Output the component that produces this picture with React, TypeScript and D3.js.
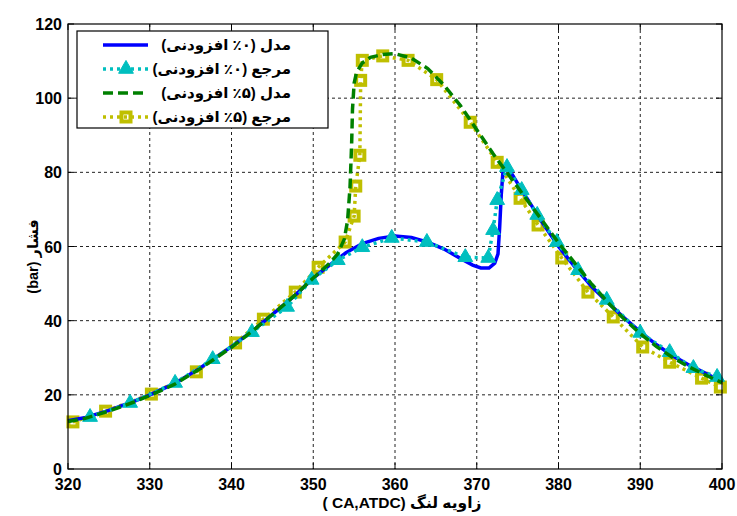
import React from 'react';
import * as d3 from 'd3';

// ---------- data ----------
const xTicks = [320, 330, 340, 350, 360, 370, 380, 390, 400];
const yTicks = [0, 20, 40, 60, 80, 100, 120];

const legendLabels = [
  'مدل (۰٪ افزودنی)',
  'مرجع (۰٪ افزودنی)',
  'مدل (۵٪ افزودنی)',
  'مرجع (۵٪ افزودنی)',
];
const xTitle = 'زاویه لنگ (CA,ATDC )';
const yTitle = 'فشار (bar)';

// model, 0% additive (solid blue)
const model0X = [320, 322, 325, 328, 330, 333, 336, 340, 343, 346, 348, 350, 352, 354, 356, 358, 360, 362, 364, 366, 368, 369.5, 370.5, 371.5, 372.2, 372.6, 372.8, 373, 373.2, 373.5, 374, 375, 376, 378, 380, 382, 384, 386, 388, 390, 392, 394, 396, 398, 400];
const model0Y = [13, 13.8, 15.8, 18.2, 20, 23, 27, 33, 38, 43.5, 47.3, 51.5, 55, 58.3, 60.8, 62.2, 62.8, 62.4, 61.2, 59.3, 56.8, 55, 54.2, 54.2, 55.5, 58, 65, 74, 80, 81.3, 80.6, 77, 73.5, 66.5, 60, 54.5, 49.3, 45, 40.8, 37, 33.5, 30.5, 28, 25.8, 23.5];

// reference, 0% additive (cyan dotted, triangles)
const ref0X = [322.7, 327.6, 333.1, 337.7, 342.5, 346.8, 349.8, 353.0, 356.0, 359.6, 363.9, 368.6, 371.4, 372.0, 372.5, 373.7, 375.5, 377.4, 379.8, 382.4, 385.9, 390.0, 393.6, 396.5, 399.4];
const ref0Y = [14.0, 17.8, 23.2, 29.6, 36.9, 43.7, 51.0, 56.3, 59.8, 62.3, 61.2, 57.1, 56.9, 64.4, 72.5, 81.4, 75.2, 68.5, 61.2, 53.6, 45.6, 36.7, 31.5, 27.2, 24.8];

// model, 5% additive (green dashed)
const model5X = [320, 322, 325, 328, 330, 333, 336, 340, 343, 346, 348, 350, 352, 353, 353.8, 354.2, 354.5, 354.7, 354.8, 355, 355.3, 356, 357, 358.5, 360, 362, 364, 366, 368, 370, 372, 374, 376, 378, 380, 382, 384, 386, 388, 390, 392, 394, 396, 398, 400];
const model5Y = [12.8, 13.6, 15.6, 18, 19.8, 22.8, 26.8, 32.8, 38, 43.5, 47.3, 51.5, 55.5, 58, 62, 67, 76, 88, 97, 104, 107, 109.5, 111, 111.8, 112, 110.8, 108, 103.5, 98, 91.5, 85, 79, 73, 67, 61, 55.5, 50, 45, 40.5, 36.5, 33, 30, 27.5, 25.3, 23.3];

// reference, 5% additive (yellow dotted, squares)
const ref5X = [320.6, 324.6, 330.2, 335.7, 340.5, 343.9, 347.8, 350.6, 353.9, 355.0, 355.2, 355.7, 355.8, 356.0, 358.5, 361.6, 365.1, 369.2, 372.5, 375.3, 377.5, 380.4, 383.6, 386.7, 390.3, 393.6, 397.5, 399.8];
const ref5Y = [12.7, 15.6, 20.2, 26.2, 34.0, 40.4, 47.7, 54.4, 61.2, 68.2, 76.3, 84.6, 104.8, 110.2, 111.4, 110.2, 105.0, 93.5, 82.7, 73.0, 65.8, 56.9, 47.7, 41.0, 32.9, 28.8, 24.5, 22.1];

// ---------- layout ----------
const W = 737;
const H = 516;
const L = 68, R = 722, T = 24, B = 469;

const BLUE = '#0000ff';
const CYAN = '#00bfbf';
const GREEN = '#008000';
const YELLOW = '#bfbf00';

const font = '"Liberation Sans", Arial, sans-serif';
const faFont = '"Liberation Sans", "DejaVu Sans", sans-serif';

const zip = (xs: number[], ys: number[]) => xs.map((x, i) => [x, ys[i]] as [number, number]);

export default function App() {
  const x = d3.scaleLinear().domain([320, 400]).range([L, R]);
  const y = d3.scaleLinear().domain([0, 120]).range([B, T]);
  const line = d3.line<[number, number]>().x(d => x(d[0])).y(d => y(d[1]));

  const m0 = zip(model0X, model0Y);
  const r0 = zip(ref0X, ref0Y);
  const m5 = zip(model5X, model5Y);
  const r5 = zip(ref5X, ref5Y);

  const tri = d3.symbol(d3.symbolTriangle, 95)() as string;
  const sq = 9;

  const legendRows = ['m0', 'r0', 'm5', 'r5'];
  const legX0 = 77, legY0 = 31, legW = 251, legH = 97;
  const rowY = [45, 69, 93, 117];

  return (
    <svg width={W} height={H} style={{ position: 'absolute', left: 0, top: 0, background: '#fff' }}>
      <rect x={0} y={0} width={W} height={H} fill="#fff" />
      {/* grid */}
      {xTicks.slice(1, -1).map(t => (
        <line key={'gx' + t} x1={x(t)} x2={x(t)} y1={T} y2={B} stroke="#222" strokeWidth={1} strokeDasharray="3,3" />
      ))}
      {yTicks.slice(1, -1).map(t => (
        <line key={'gy' + t} x1={L} x2={R} y1={y(t)} y2={y(t)} stroke="#222" strokeWidth={1} strokeDasharray="3,3" />
      ))}

      {/* series */}
      <path d={line(r5) as string} fill="none" stroke={YELLOW} strokeWidth={3.5} strokeDasharray="3,4" />
      {r5.map((d, i) => (
        <rect key={'s' + i} x={x(d[0]) - sq / 2} y={y(d[1]) - sq / 2} width={sq} height={sq} fill="none" stroke={YELLOW} strokeWidth={4} />
      ))}
      <path d={line(m0) as string} fill="none" stroke={BLUE} strokeWidth={3.5} />
      <path d={line(r0) as string} fill="none" stroke={CYAN} strokeWidth={3.5} strokeDasharray="3,4" />
      {r0.map((d, i) => (
        <path key={'t' + i} d={tri} transform={`translate(${x(d[0])},${y(d[1])})`} fill={CYAN} stroke={CYAN} strokeWidth={1} />
      ))}
      <path d={line(m5) as string} fill="none" stroke={GREEN} strokeWidth={3.5} strokeDasharray="10,5" />

      {/* axes box and ticks */}
      <rect x={L} y={T} width={R - L} height={B - T} fill="none" stroke="#000" strokeWidth={1.2} />
      {xTicks.map(t => (
        <g key={'xt' + t}>
          <line x1={x(t)} x2={x(t)} y1={B} y2={B - 6} stroke="#000" />
          <line x1={x(t)} x2={x(t)} y1={T} y2={T + 6} stroke="#000" />
          <text x={x(t)} y={B + 21} textAnchor="middle" fontFamily={font} fontWeight="bold" fontSize={16}>{t}</text>
        </g>
      ))}
      {yTicks.map(t => (
        <g key={'yt' + t}>
          <line x1={L} x2={L + 6} y1={y(t)} y2={y(t)} stroke="#000" />
          <line x1={R} x2={R - 6} y1={y(t)} y2={y(t)} stroke="#000" />
          <text x={L - 6} y={y(t) + 6} textAnchor="end" fontFamily={font} fontWeight="bold" fontSize={16}>{t}</text>
        </g>
      ))}

      {/* axis titles */}
      <text x={(L + R) / 2 + 7} y={508} textAnchor="middle" fontFamily={faFont} fontWeight="bold" fontSize={15.5} direction="rtl" unicodeBidi="embed">{xTitle}</text>
      <text transform={`translate(38,${(T + B) / 2 + 10}) rotate(-90)`} textAnchor="middle" fontFamily={faFont} fontWeight="bold" fontSize={14.5} direction="rtl" unicodeBidi="embed">{yTitle}</text>

      {/* legend */}
      <rect x={legX0} y={legY0} width={legW} height={legH} fill="#fff" stroke="#000" strokeWidth={1.2} />
      {legendRows.map((type, i) => {
        const yy = rowY[i];
        const x1 = 103, x2 = 148, xm = 126;
        let sample: React.ReactNode = null;
        if (type === 'm0') sample = <line x1={x1} x2={x2} y1={yy} y2={yy} stroke={BLUE} strokeWidth={3.5} />;
        if (type === 'r0') sample = (
          <g>
            <line x1={x1} x2={x2} y1={yy} y2={yy} stroke={CYAN} strokeWidth={3.5} strokeDasharray="3,4" />
            <path d={tri} transform={`translate(${xm},${yy})`} fill={CYAN} stroke={CYAN} />
          </g>
        );
        if (type === 'm5') sample = <line x1={x1} x2={x2} y1={yy} y2={yy} stroke={GREEN} strokeWidth={3.5} strokeDasharray="10,5" />;
        if (type === 'r5') sample = (
          <g>
            <line x1={x1} x2={x2} y1={yy} y2={yy} stroke={YELLOW} strokeWidth={3.5} strokeDasharray="3,4" />
            <rect x={xm - sq / 2} y={yy - sq / 2} width={sq} height={sq} fill="none" stroke={YELLOW} strokeWidth={4} />
          </g>
        );
        return (
          <g key={'lg' + i}>
            {sample}
            <text x={291} y={yy + 5} textAnchor="start" direction="rtl" unicodeBidi="embed" fontFamily={faFont} fontWeight="bold" fontSize={15}>{legendLabels[i]}</text>
          </g>
        );
      })}
    </svg>
  );
}
